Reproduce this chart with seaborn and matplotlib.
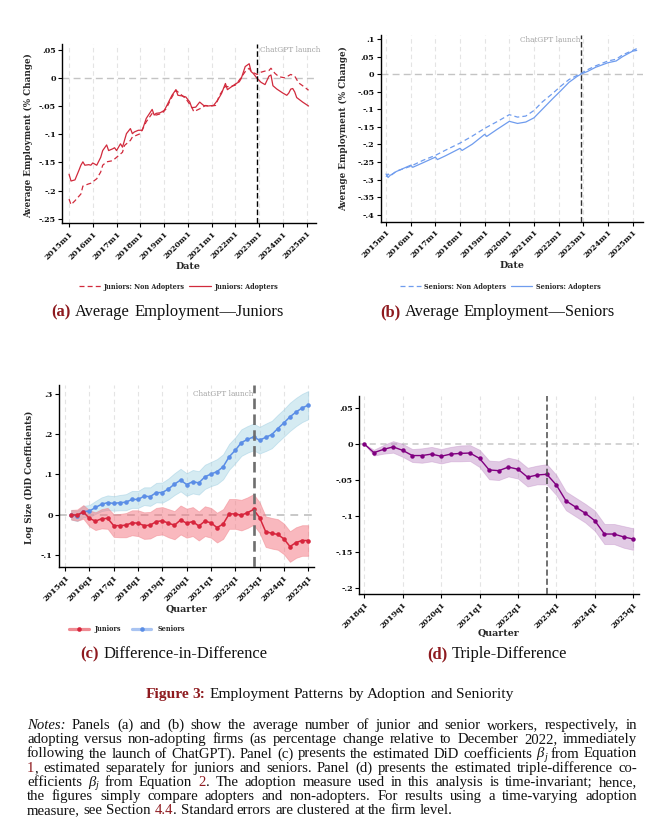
import re
import numpy as np
import pandas as pd
import matplotlib
matplotlib.use("Agg")
import matplotlib.pyplot as plt
import seaborn as sns
from matplotlib.lines import Line2D

# ---------------------------------------------------------------- data
# Panel (a): juniors, months since 2015m1
jun_adopt_month = [0, 1, 3, 5, 6, 7, 8, 10, 11, 12,
                   14, 16, 17, 19, 20, 22, 23, 24, 26, 27,
                   29, 31, 32, 33, 35, 37, 39, 42, 43, 44,
                   46, 48, 49, 52, 54, 55, 57, 59, 61, 62,
                   64, 66, 68, 70, 73, 75, 77, 79, 80, 82,
                   84, 86, 87, 89, 91, 92, 93, 95, 97, 99,
                   101, 102, 103, 105, 108, 110, 111, 112, 113, 114,
                   115, 118, 121]
jun_adopt_value = [-0.171, -0.183, -0.181, -0.164, -0.155, -0.149, -0.155, -0.154, -0.155, -0.151,
                   -0.155, -0.141, -0.129, -0.119, -0.129, -0.126, -0.124, -0.129, -0.117, -0.123,
                   -0.099, -0.090, -0.099, -0.096, -0.093, -0.093, -0.072, -0.056, -0.066, -0.063,
                   -0.062, -0.058, -0.052, -0.031, -0.021, -0.031, -0.032, -0.034, -0.043, -0.053,
                   -0.052, -0.043, -0.049, -0.050, -0.049, -0.040, -0.028, -0.010, -0.021, -0.016,
                   -0.011, -0.007, -0.001, 0.020, 0.025, 0.011, 0.008, -0.001, -0.008, -0.012,
                   0.003, 0.005, -0.014, -0.020, -0.027, -0.031, -0.027, -0.020, -0.019, -0.025,
                   -0.035, -0.043, -0.050]
jun_non_month = [0, 1, 3, 6, 7, 10, 11, 14, 16, 17,
                 19, 22, 24, 27, 28, 31, 32, 36, 39, 42,
                 44, 47, 49, 52, 54, 57, 59, 62, 63, 66,
                 69, 71, 74, 76, 79, 81, 84, 86, 89, 91,
                 92, 95, 97, 99, 101, 102, 104, 106, 109, 112,
                 114, 116, 118, 121]
jun_non_value = [-0.215, -0.225, -0.218, -0.206, -0.192, -0.188, -0.187, -0.179, -0.167, -0.155,
                 -0.149, -0.147, -0.141, -0.132, -0.120, -0.111, -0.105, -0.099, -0.078, -0.063,
                 -0.066, -0.063, -0.055, -0.034, -0.022, -0.031, -0.037, -0.052, -0.060, -0.055,
                 -0.049, -0.050, -0.049, -0.031, -0.015, -0.016, -0.013, -0.004, 0.011, 0.017,
                 0.011, 0.006, 0.010, 0.012, 0.013, 0.017, 0.008, 0.002, 0.000, 0.006,
                 0.003, -0.009, -0.014, -0.022]

# Panel (b): seniors, months since 2015m1
sen_adopt_month = [0, 1, 2, 5, 12, 13, 18, 24, 25, 29,
                   36, 37, 42, 48, 49, 54, 60, 64, 68, 72,
                   76, 81, 85, 89, 93, 95, 98, 102, 108, 112,
                   115, 120, 122]
sen_adopt_value = [-0.284, -0.294, -0.288, -0.277, -0.259, -0.265, -0.252, -0.236, -0.243, -0.232,
                   -0.211, -0.217, -0.199, -0.171, -0.177, -0.157, -0.134, -0.140, -0.136, -0.124,
                   -0.100, -0.070, -0.047, -0.023, -0.006, 0.001, 0.008, 0.020, 0.033, 0.038,
                   0.050, 0.066, 0.068]
sen_non_month = [0, 1, 2, 5, 12, 18, 24, 29, 36, 42,
                 48, 54, 60, 64, 68, 72, 76, 81, 85, 89,
                 93, 95, 98, 102, 108, 112, 115, 120, 122]
sen_non_value = [-0.292, -0.284, -0.290, -0.276, -0.262, -0.245, -0.231, -0.216, -0.196, -0.176,
                 -0.154, -0.135, -0.115, -0.122, -0.119, -0.103, -0.079, -0.055, -0.034, -0.015,
                 -0.003, 0.003, 0.013, 0.024, 0.038, 0.043, 0.055, 0.068, 0.073]

# Panel (c): DiD coefficients, quarters since 2015q1 (1 = 2015q2 ... 40 = 2025q1)
did_quarter = list(range(1, 41))
did_juniors = [0.000, -0.001, 0.007, -0.009, -0.016, -0.010, -0.009, -0.027, -0.027, -0.026,
               -0.020, -0.021, -0.027, -0.026, -0.017, -0.015, -0.021, -0.026, -0.013, -0.021,
               -0.017, -0.028, -0.016, -0.020, -0.032, -0.023, 0.002, 0.002, -0.001, 0.005,
               0.013, -0.007, -0.042, -0.046, -0.049, -0.060, -0.079, -0.069, -0.064, -0.064]
did_juniors_ci = [0.012, 0.014, 0.017, 0.020, 0.022, 0.024, 0.026, 0.028, 0.029, 0.030,
                  0.031, 0.032, 0.033, 0.033, 0.034, 0.034, 0.035, 0.035, 0.036, 0.036,
                  0.036, 0.036, 0.037, 0.037, 0.037, 0.037, 0.037, 0.037, 0.038, 0.038,
                  0.038, 0.038, 0.038, 0.038, 0.038, 0.038, 0.038, 0.038, 0.038, 0.038]
did_seniors = [0.000, -0.003, 0.008, 0.009, 0.018, 0.026, 0.030, 0.028, 0.030, 0.031,
               0.038, 0.038, 0.046, 0.045, 0.055, 0.055, 0.064, 0.076, 0.086, 0.075,
               0.082, 0.079, 0.094, 0.101, 0.107, 0.119, 0.144, 0.160, 0.179, 0.187,
               0.193, 0.185, 0.192, 0.199, 0.214, 0.228, 0.243, 0.255, 0.265, 0.272]
did_seniors_ci = [0.012, 0.013, 0.014, 0.015, 0.016, 0.017, 0.018, 0.018, 0.019, 0.020,
                  0.021, 0.021, 0.022, 0.023, 0.024, 0.025, 0.026, 0.027, 0.028, 0.028,
                  0.029, 0.029, 0.030, 0.030, 0.031, 0.031, 0.032, 0.032, 0.033, 0.033,
                  0.033, 0.033, 0.034, 0.034, 0.034, 0.034, 0.035, 0.035, 0.035, 0.035]

# Panel (d): triple difference, quarters since 2018q1
ddd_quarter = list(range(0, 29))
ddd_value = [0.000, -0.012, -0.0074, -0.004, -0.0088, -0.016, -0.016, -0.014, -0.017, -0.014,
             -0.013, -0.0125, -0.020, -0.036, -0.037, -0.032, -0.035, -0.046, -0.043, -0.042,
             -0.057, -0.079, -0.0875, -0.096, -0.1065, -0.125, -0.125, -0.129, -0.132]
ddd_ci = [0.000, 0.004, 0.006, 0.008, 0.009, 0.009, 0.010, 0.010, 0.010, 0.010,
          0.011, 0.011, 0.012, 0.013, 0.013, 0.013, 0.013, 0.013, 0.013, 0.014,
          0.014, 0.013, 0.013, 0.013, 0.014, 0.014, 0.014, 0.015, 0.015]

month_ticks = [0, 12, 24, 36, 48, 60, 72, 84, 96, 108, 120]
month_labels = ["2015m1", "2016m1", "2017m1", "2018m1", "2019m1", "2020m1",
                "2021m1", "2022m1", "2023m1", "2024m1", "2025m1"]
q15_ticks = [0, 4, 8, 12, 16, 20, 24, 28, 32, 36, 40]
q15_labels = ["2015q1", "2016q1", "2017q1", "2018q1", "2019q1", "2020q1",
              "2021q1", "2022q1", "2023q1", "2024q1", "2025q1"]
q18_ticks = [0, 4, 8, 12, 16, 20, 24, 28]
q18_labels = ["2018q1", "2019q1", "2020q1", "2021q1", "2022q1", "2023q1", "2024q1", "2025q1"]

a_yticks = [0.05, 0, -0.05, -0.1, -0.15, -0.2, -0.25]
a_ylabels = [".05", "0", "-.05", "-.1", "-.15", "-.2", "-.25"]
b_yticks = [0.1, 0.05, 0, -0.05, -0.1, -0.15, -0.2, -0.25, -0.3, -0.35, -0.4]
b_ylabels = [".1", ".05", "0", "-.05", "-.1", "-.15", "-.2", "-.25", "-.3", "-.35", "-.4"]
c_yticks = [0.3, 0.2, 0.1, 0, -0.1]
c_ylabels = [".3", ".2", ".1", "0", "-.1"]
d_yticks = [0.05, 0, -0.05, -0.1, -0.15, -0.2]
d_ylabels = [".05", "0", "-.05", "-.1", "-.15", "-.2"]

LAUNCH_MONTH = 95      # 2022m12
LAUNCH_Q15 = 31        # 2022q4
LAUNCH_Q18 = 19        # 2022q4

# ---------------------------------------------------------------- style
sns.set_theme(style="white")
plt.rcParams['font.family'] = ['DejaVu Serif']

W, H = 658, 832
fig = plt.figure(figsize=(W / 100, H / 100), dpi=100)
fig.patch.set_facecolor('white')

RED = '#d12a3c'
BLUE = '#6f9cee'
JRED = '#d7263d'
SBLUE = '#5b8ee6'
PURPLE = '#800080'
GRID = '#e4e4e4'
TICKFS = 5.8


def add_ax(l, t, r, b):
    return fig.add_axes([l / W, 1 - b / H, (r - l) / W, (b - t) / H])


def style(ax, xticks, xlabels, yticks, ylabels, xlim, ylim):
    ax.set_xlim(xlim)
    ax.set_ylim(ylim)
    ax.set_xticks(xticks)
    ax.set_xticklabels(xlabels, rotation=45, ha='right', rotation_mode='anchor',
                       fontsize=TICKFS, fontweight='bold')
    ax.set_yticks(yticks)
    ax.set_yticklabels(ylabels, fontsize=TICKFS, fontweight='bold')
    for s in ['top', 'right']:
        ax.spines[s].set_visible(False)
    for s in ['left', 'bottom']:
        ax.spines[s].set_color('black')
        ax.spines[s].set_linewidth(1.0)
    ax.tick_params(axis='both', direction='out', length=3, width=0.8, color='black',
                   pad=1.5, bottom=True, left=True, labelcolor='#111111')
    for xt in xticks:
        ax.axvline(xt, color=GRID, lw=0.8, ls=(0, (4, 3)), zorder=0)
    ax.grid(False)


def set_labels(ax, xlabel, xpos, ylabel=None, ypos=None):
    ax.set_xlabel(xlabel, fontsize=6.8, fontweight='bold', va='center')
    ax.xaxis.set_label_coords(*xpos)
    if ylabel:
        ax.set_ylabel(ylabel, fontsize=6.3, fontweight='bold', va='center')
        ax.yaxis.set_label_coords(*ypos)


LEG = dict(family='DejaVu Serif', weight='bold', size=4.7)

# ---------------------------------------------------------------- panel (a)
axa = add_ax(62.3, 44, 315.7, 223.3)
style(axa, month_ticks, month_labels, a_yticks, a_ylabels, (-3.4, 124.6), (-0.258, 0.060))
axa.axhline(0, color='#c4c4c4', lw=1.0, ls=(0, (5, 3)), zorder=1)
sns.lineplot(x=jun_non_month, y=jun_non_value, ax=axa, color=RED, linewidth=0.9,
             linestyle=(0, (4, 2.5)), errorbar=None)
sns.lineplot(x=jun_adopt_month, y=jun_adopt_value, ax=axa, color=RED, linewidth=0.9, errorbar=None)
axa.axvline(LAUNCH_MONTH, color='black', lw=1.0, ls=(0, (4, 2)), zorder=3)
axa.text(LAUNCH_MONTH + 1.3, 0.05, 'ChatGPT launch', color='#a3a3a3', fontsize=5.3,
         ha='left', va='center', clip_on=False)
set_labels(axa, 'Date', (0.496, -0.242), 'Average Employment (% Change)', (-0.135, 0.487))
axa.legend([Line2D([], [], color=RED, lw=0.9, ls=(0, (4, 2.5))), Line2D([], [], color=RED, lw=0.9)],
           ['Juniors: Non Adopters', 'Juniors: Adopters'], loc='center',
           bbox_to_anchor=(178.5 / W, 1 - 286.7 / H), bbox_transform=fig.transFigure, ncol=2,
           frameon=False, prop=LEG, handlelength=3.3, handletextpad=0.5, columnspacing=0.7)

# ---------------------------------------------------------------- panel (b)
axb = add_ax(380.7, 35, 643.3, 221.7)
style(axb, month_ticks, month_labels, b_yticks, b_ylabels, (-2.6, 125.2), (-0.42, 0.112))
axb.axhline(0, color='#c4c4c4', lw=1.0, ls=(0, (5, 3)), zorder=1)
sns.lineplot(x=sen_non_month, y=sen_non_value, ax=axb, color=BLUE, linewidth=0.9,
             linestyle=(0, (4, 2.5)), errorbar=None)
sns.lineplot(x=sen_adopt_month, y=sen_adopt_value, ax=axb, color=BLUE, linewidth=0.9, errorbar=None)
axb.axvline(LAUNCH_MONTH, color='#333333', lw=1.0, ls=(0, (4, 2)), zorder=3)
axb.text(LAUNCH_MONTH - 0.6, 0.098, 'ChatGPT launch', color='#a3a3a3', fontsize=5.3,
         ha='right', va='center', clip_on=False)
set_labels(axb, 'Date', (0.499, -0.236), 'Average Employment (% Change)', (-0.142, 0.498))
axb.legend([Line2D([], [], color=BLUE, lw=0.9, ls=(0, (4, 2.5))), Line2D([], [], color=BLUE, lw=0.9)],
           ['Seniors: Non Adopters', 'Seniors: Adopters'], loc='center',
           bbox_to_anchor=(500 / W, 1 - 286.7 / H), bbox_transform=fig.transFigure, ncol=2,
           frameon=False, prop=LEG, handlelength=3.3, handletextpad=0.5, columnspacing=0.7)

# ---------------------------------------------------------------- panel (c)
axc = add_ax(59, 385, 314.3, 567.3)
style(axc, q15_ticks, q15_labels, c_yticks, c_ylabels, (-1.0, 41.0), (-0.1305, 0.322))
axc.axhline(0, color='#c8c8c8', lw=1.4, ls=(0, (4, 3)), zorder=1)
dq = np.array(did_quarter)
jv, jc = np.array(did_juniors), np.array(did_juniors_ci)
sv, sc = np.array(did_seniors), np.array(did_seniors_ci)
axc.fill_between(dq, sv - sc, sv + sc, facecolor='#add8e6', alpha=0.5, edgecolor='#9ccde2', lw=0.6, zorder=2)
axc.fill_between(dq, jv - jc, jv + jc, facecolor='#f4737e', alpha=0.5, edgecolor='#f08088', lw=0.6, zorder=2)
sns.lineplot(x=did_quarter, y=did_seniors, ax=axc, color=SBLUE, linewidth=1.1, marker='o',
             markersize=3.3, markeredgewidth=0, errorbar=None, zorder=4)
sns.lineplot(x=did_quarter, y=did_juniors, ax=axc, color=JRED, linewidth=1.1, marker='o',
             markersize=3.3, markeredgewidth=0, errorbar=None, zorder=4)
axc.axvline(LAUNCH_Q15, color='#6e6e6e', lw=1.9, ls=(0, (4, 2)), zorder=5)
axc.text(LAUNCH_Q15 - 0.1, 0.3, 'ChatGPT launch', color='#a3a3a3', fontsize=5.3,
         ha='right', va='center', clip_on=False)
set_labels(axc, 'Quarter', (0.5, -0.229), 'Log Size (DiD Coefficients)', (-0.116, 0.493))
axc.legend([Line2D([], [], color='#ef8a92', lw=2.3, marker='o', markersize=3.3,
                   markerfacecolor=JRED, markeredgewidth=0),
            Line2D([], [], color='#a9c4f2', lw=2.3, marker='o', markersize=3.3,
                   markerfacecolor=SBLUE, markeredgewidth=0)],
           ['Juniors', 'Seniors'], loc='center',
           bbox_to_anchor=(127 / W, 1 - 629.3 / H), bbox_transform=fig.transFigure, ncol=2,
           frameon=False, prop=LEG, handlelength=3.0, handletextpad=0.9, columnspacing=1.6)

# ---------------------------------------------------------------- panel (d)
axd = add_ax(359.3, 396, 639, 594.3)
style(axd, q18_ticks, q18_labels, d_yticks, d_ylabels, (-0.52, 28.6), (-0.2087, 0.0667))
axd.axhline(0, color='#c8c8c8', lw=1.1, ls=(0, (4, 3)), zorder=1)
tq = np.array(ddd_quarter)
tv, tc = np.array(ddd_value), np.array(ddd_ci)
axd.fill_between(tq, tv - tc, tv + tc, facecolor='#b982c0', alpha=0.42, edgecolor='#c08ac6', lw=0.6, zorder=2)
sns.lineplot(x=ddd_quarter, y=ddd_value, ax=axd, color=PURPLE, linewidth=1.0, marker='o',
             markersize=3.2, markeredgewidth=0, errorbar=None, zorder=4)
axd.axvline(LAUNCH_Q18, color='#4a4a4a', lw=1.1, ls=(0, (4, 2)), zorder=5)
set_labels(axd, 'Quarter', (0.497, -0.197))
axd.set_ylabel('')

# ---------------------------------------------------------------- captions and notes
renderer = fig.canvas.get_renderer()
SERIF = 'Liberation Serif'
DARKRED = '#8e1a1f'
TOKEN = re.compile(r'\[(\w):([^\]]*)\]|([^\[]+)')
SUB_DROP = 2.0   # px the subscript sits below the baseline


def seg_props(kind, fs):
    p = dict(family=SERIF, fontsize=fs, color='#111111')
    if kind == 'r':
        p['color'] = DARKRED
    elif kind == 'i' or kind == 'g':
        p['style'] = 'italic'
    elif kind == 'b':
        p['color'] = DARKRED
        p['weight'] = 'bold'
    elif kind == 's':
        p['style'] = 'italic'
        p['fontsize'] = fs * 0.68
    return p


def measure(s, props):
    t = fig.text(0, 0, s, **props)
    w = t.get_window_extent(renderer).width
    t.remove()
    return w


def parse_word(word):
    segs = []
    for m in TOKEN.finditer(word):
        if m.group(1):
            segs.append((m.group(2), m.group(1)))
        else:
            segs.append((m.group(3), 'n'))
    return segs


def line_metrics(line, fs):
    words = [parse_word(w) for w in line.split(' ')]
    widths = [[measure(s, seg_props(k, fs)) for s, k in wd] for wd in words]
    space = measure('a a', seg_props('n', fs)) - measure('aa', seg_props('n', fs))
    natural = sum(sum(w) for w in widths) + space * (len(words) - 1)
    return words, widths, space, natural


def draw_line(line, fs, y, x_left=None, x_right=None, x_center=None, justify=False):
    words, widths, space, natural = line_metrics(line, fs)
    word_w = [sum(w) for w in widths]
    if justify:
        gap = (x_right - x_left - sum(word_w)) / (len(words) - 1)
        x = x_left
    elif x_center is not None:
        gap = space
        x = x_center - natural / 2
    else:
        gap = space
        x = x_left
    for wd, ws in zip(words, widths):
        xx = x
        for (s, k), w in zip(wd, ws):
            yy = y + (SUB_DROP if k == 's' else 0)
            fig.text(xx / W, 1 - yy / H, s, ha='left', va='baseline', **seg_props(k, fs))
            xx += w
        x += sum(ws) + gap


def natural_width(line, fs=10):
    return line_metrics(line, fs)[3]


captions = [("[b:(a)] Average Employment\u2014Juniors", 167.5, 316),
            ("[b:(b)] Average Employment\u2014Seniors", 497.5, 316),
            ("[b:(c)] Difference-in-Difference", 174, 658),
            ("[b:(d)] Triple-Difference", 497.5, 658)]
cap_fs = 10 * 231 / natural_width(captions[0][0])
for txt, cx, cy in captions:
    draw_line(txt, cap_fs, cy, x_center=cx)

title = "[b:Figure] [b:3:] Employment Patterns by Adoption and Seniority"
title_fs = 10 * 367 / natural_width(title)
draw_line(title, title_fs, 698, x_center=329.5)

notes = [
    "[i:Notes:] Panels (a) and (b) show the average number of junior and senior workers, respectively, in",
    "adopting versus non-adopting firms (as percentage change relative to December 2022, immediately",
    "following the launch of ChatGPT). Panel (c) presents the estimated DiD coefficients [g:\u03b2][s:j] from Equation",
    "[r:1], estimated separately for juniors and seniors. Panel (d) presents the estimated triple-difference co-",
    "efficients [g:\u03b2][s:j] from Equation [r:2]. The adoption measure used in this analysis is time-invariant; hence,",
    "the figures simply compare adopters and non-adopters. For results using a time-varying adoption",
    "measure, see Section [r:4.4]. Standard errors are clustered at the firm level.",
]
widest = max(natural_width(ln) for ln in notes[:-1])
notes_fs = min(10 * 428 / natural_width(notes[-1]), 10 * 604 / widest)
for i, ln in enumerate(notes):
    y = 729 + 14.25 * i
    if i < len(notes) - 1:
        draw_line(ln, notes_fs, y, x_left=27, x_right=637, justify=True)
    else:
        draw_line(ln, notes_fs, y, x_left=27)

fig.savefig('out.png', dpi=100, facecolor='white')
